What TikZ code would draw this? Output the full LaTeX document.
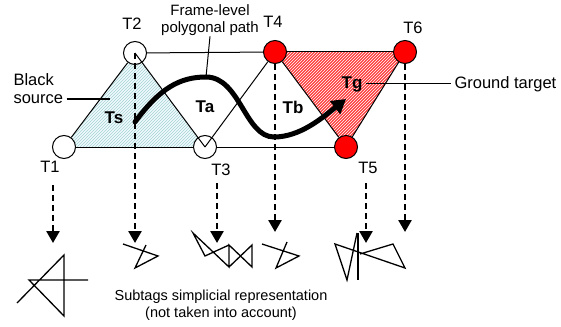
\documentclass[tikz,border=0pt]{standalone}
\usepackage{fontspec}
\setmainfont{Liberation Sans}
\usetikzlibrary{arrows.meta,patterns}

\begin{document}
\begin{tikzpicture}[x=1pt,y=-1pt]
        \tikzset{VertexStyle/.style = {circle, draw, line width=1pt,
                   minimum size=23pt, inner sep=0pt, fill=white},
                 TargetStyle/.style = {VertexStyle, fill=red},
                 EdgeStyle/.style = {line width=1pt},
                 NameStyle/.style = {font=\fontsize{16.5}{19}\selectfont},
                 CellStyle/.style = {font=\bfseries\fontsize{17}{19}\selectfont},
                 DownStyle/.style = {line width=2.6pt, dash pattern=on 6pt off 4pt,
                   -{Triangle[length=12pt,width=13pt]}},
                 PathStyle/.style = {line width=5pt, line cap=round,
                   -{Triangle[length=14pt,width=16pt]}},
                 SubtagStyle/.style = {line width=1.3pt},
                 SourceFill/.style = {fill=cyan!6,
                   postaction={pattern=north east lines, pattern color=teal!35}},
                 TargetFill/.style = {fill=red!75,
                   postaction={pattern=north east lines, pattern color=white}}}
        \useasboundingbox (0,0) rectangle (561,326);
        % triangulation
        \coordinate (t1) at (64,147);  \coordinate (t2) at (135,53);
        \coordinate (t3) at (205,147); \coordinate (t4) at (275,52);
        \coordinate (t5) at (346,147); \coordinate (t6) at (405,52);
        \fill[SourceFill] (t1) -- (t2) -- (t3) -- cycle;
        \fill[TargetFill] (t4) -- (t6) -- (t5) -- cycle;
        \node[VertexStyle] (T1) at (t1) {};
        \node[VertexStyle] (T2) at (t2) {};
        \node[VertexStyle] (T3) at (t3) {};
        \node[TargetStyle] (T4) at (t4) {};
        \node[TargetStyle] (T5) at (t5) {};
        \node[TargetStyle] (T6) at (t6) {};
        \draw[EdgeStyle] (T1) -- (T2);
        \draw[EdgeStyle] (T1) -- (T3);
        \draw[EdgeStyle] (T2) -- (T4);
        \draw[EdgeStyle] (T3) -- (T5);
        \draw[EdgeStyle] (T4) -- (T6);
        \draw[EdgeStyle] (T4) -- (T5);
        \draw[EdgeStyle] (T5) -- (T6);
        \draw[EdgeStyle] (T2.center) -- (T3.center);
        \draw[EdgeStyle] (T3.center) -- (T4);
        \node[NameStyle] (L1) at (50,167) {T1};
        \node[NameStyle] (L2) at (132,24) {T2};
        \node[NameStyle] (L3) at (221,170) {T3};
        \node[NameStyle] (L4) at (273,22) {T4};
        \node[NameStyle] (L5) at (368,168) {T5};
        \node[NameStyle] (L6) at (413,28) {T6};
        % projections onto the subtags
        \coordinate (d1) at (53,185);  \coordinate (e1) at (53,243);
        \coordinate (e2) at (135,243);
        \coordinate (d3) at (217,183); \coordinate (e3) at (217,243);
        \coordinate (e4) at (275,232);
        \coordinate (d5) at (366,183); \coordinate (e5) at (366,243);
        \coordinate (e6) at (405,232);
        \draw[DownStyle] (d1) -- (e1);
        \draw[DownStyle] (T2.center) -- (e2);
        \draw[DownStyle] (d3) -- (e3);
        \draw[DownStyle] (T4.south) -- (e4);
        \draw[DownStyle] (d5) -- (e5);
        \draw[DownStyle] (T6.south) -- (e6);
        % subtags
        \draw[SubtagStyle] (17,303) -- (64,255) -- (64,316) -- (29,280) -- (88,280);
        \draw[SubtagStyle] (123,244) -- (158,256) -- (135,268) -- (146,245);
        \draw[SubtagStyle] (229,245) -- (205,256) -- (193,233) -- (229,267)
                -- (229,245) -- (252,267) -- (252,245) -- (229,267);
        \draw[SubtagStyle] (262,244) -- (299,256) -- (276,268) -- (287,242);
        \draw[SubtagStyle] (357,233) -- (347,280) -- (335,244) -- (405,268)
                -- (393,244) -- (360,254);
        \draw[SubtagStyle] (358,233) -- (358,280);
        % frame-level path
        \coordinate (p0) at (135,122);
        \coordinate (pk) at (206,77);
        \coordinate (pl) at (274,137);
        \coordinate (pg) at (346,99);
        \draw[PathStyle] (p0) .. controls (160,88) and (180,77) .. (pk)
                .. controls (240,77) and (245,137) .. (pl)
                .. controls (300,137) and (322,118) .. (pg);
        \node[CellStyle] (Ts) at (114,118) {Ts};
        \node[CellStyle] (Ta) at (205,107) {Ta};
        \node[CellStyle] (Tb) at (293,107) {Tb};
        \node[CellStyle] (Tg) at (352,84) {Tg};
        \node[font=\fontsize{15}{16.5}\selectfont, align=center, inner sep=1pt]
                (frame) at (210,20) {Frame-level\\polygonal path};
        \draw[EdgeStyle] (frame.south) -- (pk);
        \node[NameStyle, anchor=west] (src) at (10,99) {source};
        \node[NameStyle, anchor=west] (blk) at (10,80) {Black};
        \coordinate (srcEnd) at (110,99);
        \draw[EdgeStyle] (src.east) -- (srcEnd);
        \node[NameStyle, anchor=west] (gt) at (451,84) {Ground target};
        \draw[EdgeStyle] (Tg.east) -- (gt.west);
        \node[font=\fontsize{14.5}{17}\selectfont, align=center]
                (note) at (221,305) {Subtags simplicial representation\\(not taken into account)};
\end{tikzpicture}
\end{document}
